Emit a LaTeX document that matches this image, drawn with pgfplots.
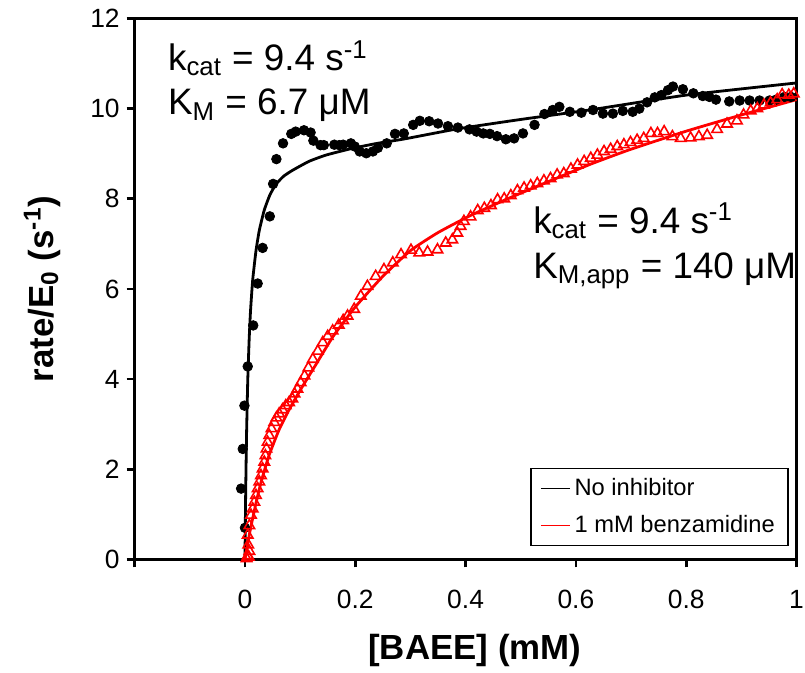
\documentclass[border=0pt]{standalone}
\usepackage{pgfplots}
\pgfplotsset{compat=1.18}
\usepackage{fontspec}
\setmainfont{Liberation Sans}
\begin{document}
\begin{tikzpicture}
\begin{axis}[
  scale only axis, width=331bp, height=270.5bp,
  xmin=-0.2, xmax=1, ymin=0, ymax=12,
  xtick={-0.2,0,0.2,0.4,0.6,0.8,1},
  xticklabels={,0,0.2,0.4,0.6,0.8,1},
  ytick={0,2,4,6,8,10,12},
  yticklabels={0,2,4,6,8,10,12},
  tick pos=left, tick align=outside,
  major tick length=4bp,
  tick style={black, line width=1.3bp},
  axis line style={line width=1.4bp},
  /pgf/number format/assume math mode=true,
  ticklabel style={font=\fontsize{13.25}{15}\selectfont},
  xticklabel style={yshift=-8bp},
  xlabel={\textbf{[BAEE] (mM)}},
  ylabel={\textbf{rate/E\textsubscript{0} (s\textsuperscript{-1})}},
  label style={font=\fontsize{17.5}{20}\selectfont},
  xlabel style={at={(axis description cs:0.514,-0.168)}, anchor=center},
  ylabel style={at={(axis description cs:-0.14,0.5)}, anchor=center},
  clip=false,
  legend cell align=left,
  legend style={at={(0.988,0.024)}, anchor=south east, draw=black, line width=0.7bp,
    font=\fontsize{11.9}{13.5}\selectfont, row sep=4.5bp, inner xsep=4.5bp, inner ysep=3bp},
  legend image code/.code={\draw[#1, line width=0.75bp] (0bp,0bp) -- (14.5bp,0bp);},
]
\coordinate (bl) at (rel axis cs:0,0);
\coordinate (tr) at (rel axis cs:1,1);
% black data points
\addplot[only marks, mark=*, mark size=2.4bp, black, forget plot] coordinates {
(0.000,0.70) (-0.007,1.57) (-0.004,2.45) (-0.001,3.41) (0.005,4.28) (0.015,5.19)
(0.023,6.12) (0.032,6.91) (0.045,7.61) (0.051,8.33) (0.057,8.88) (0.069,9.23)
(0.084,9.44) (0.092,9.49) (0.107,9.52) (0.119,9.47) (0.124,9.29) (0.137,9.19)
(0.143,9.19) (0.162,9.20) (0.171,9.19) (0.178,9.20) (0.192,9.23) (0.199,9.16)
(0.208,9.05) (0.220,9.01) (0.232,9.05) (0.241,9.13) (0.257,9.23) (0.272,9.44)
(0.288,9.45) (0.305,9.64) (0.317,9.73) (0.334,9.72) (0.350,9.67) (0.368,9.61)
(0.386,9.58) (0.407,9.54) (0.420,9.49) (0.432,9.45) (0.444,9.44) (0.457,9.39)
(0.473,9.32) (0.488,9.34) (0.504,9.45) (0.525,9.64) (0.543,9.88) (0.558,9.97)
(0.570,10.04) (0.589,9.93) (0.610,9.91) (0.631,9.97) (0.649,9.89) (0.667,9.89)
(0.685,9.95) (0.703,9.93) (0.715,10.00) (0.729,10.14) (0.743,10.25) (0.755,10.30)
(0.767,10.41) (0.776,10.49) (0.794,10.43) (0.813,10.34) (0.830,10.28) (0.842,10.26)
(0.854,10.20) (0.878,10.16) (0.897,10.18) (0.915,10.18) (0.933,10.18) (0.951,10.18)
(0.963,10.20) (0.978,10.26) (0.990,10.26)
};
% black fit
\addplot[black, line width=1.4bp, smooth, tension=0.3] coordinates {
(0,0) (0.001,1.2) (0.002,2.1) (0.003,2.85) (0.005,3.95) (0.0075,4.85) (0.01,5.5)
(0.014,6.2) (0.02,6.85) (0.026,7.3) (0.035,7.75) (0.045,8.08) (0.056,8.32)
(0.07,8.5) (0.086,8.63) (0.116,8.83) (0.147,8.97) (0.195,9.12) (0.24,9.23)
(0.29,9.33) (0.385,9.55) (0.5,9.76) (0.63,9.98) (0.8,10.3) (1.0,10.57)
};
\addlegendentry{No inhibitor}
% red data points
\addplot[only marks, mark=triangle, mark size=3bp, red, mark options={line width=0.8bp}, forget plot] coordinates {
(0.003,0.02) (0.005,0.08) (0.007,0.05) (0.008,0.18) (0.006,0.32) (0.005,0.54) (0.008,0.75)
(0.011,0.98) (0.014,1.12) (0.017,1.27) (0.020,1.42) (0.023,1.57) (0.026,1.72) (0.029,1.86)
(0.032,2.01) (0.035,2.16) (0.037,2.30) (0.039,2.45) (0.041,2.60) (0.044,2.75) (0.048,2.90)
(0.053,3.04) (0.057,3.14) (0.062,3.23) (0.068,3.32) (0.074,3.41) (0.080,3.48) (0.086,3.56)
(0.090,3.67) (0.095,3.78) (0.101,3.92) (0.108,4.07) (0.115,4.25) (0.123,4.44) (0.132,4.62)
(0.141,4.81) (0.150,4.95) (0.159,5.07) (0.170,5.20) (0.178,5.30) (0.186,5.40) (0.198,5.55)
(0.210,5.84) (0.222,6.06) (0.237,6.28) (0.252,6.43) (0.268,6.58) (0.283,6.76) (0.301,6.86)
(0.316,6.80) (0.331,6.82) (0.349,6.87) (0.364,7.02) (0.376,7.09) (0.385,7.24) (0.391,7.39)
(0.397,7.50) (0.409,7.60) (0.422,7.74) (0.434,7.79) (0.446,7.85) (0.458,7.98) (0.470,8.00)
(0.482,8.07) (0.494,8.18) (0.506,8.24) (0.518,8.29) (0.530,8.34) (0.542,8.40) (0.554,8.45)
(0.566,8.53) (0.578,8.56) (0.591,8.66) (0.603,8.75) (0.615,8.83) (0.627,8.90) (0.639,8.97)
(0.651,9.05) (0.663,9.10) (0.675,9.16) (0.687,9.20) (0.699,9.25) (0.711,9.30) (0.723,9.34)
(0.736,9.45) (0.748,9.45) (0.760,9.49) (0.775,9.38) (0.790,9.34) (0.808,9.35) (0.823,9.38)
(0.838,9.41) (0.856,9.54) (0.874,9.66) (0.892,9.73) (0.904,9.86) (0.917,9.95) (0.929,10.00)
(0.941,10.08) (0.953,10.13) (0.965,10.20) (0.974,10.31) (0.986,10.30) (0.995,10.33)
};
% red fit
\addplot[red, line width=1.4bp, smooth, tension=0.3] coordinates {
(0,0) (0.005,0.35) (0.01,0.68) (0.02,1.25) (0.03,1.75) (0.044,2.32) (0.062,2.88)
(0.08,3.32) (0.1,3.75) (0.13,4.35) (0.16,4.95) (0.2,5.6) (0.25,6.28) (0.3,6.85)
(0.35,7.25) (0.409,7.63) (0.48,8.02) (0.55,8.38) (0.627,8.77) (0.7,9.1) (0.8,9.5)
(0.9,9.86) (1.0,10.2)
};
\addlegendentry{1 mM benzamidine}
\node[anchor=base west, font=\fontsize{18.5}{22}\selectfont, inner sep=0pt] at (axis cs:-0.140,10.84) {k\textsubscript{cat} = 9.4 s\textsuperscript{-1}};
\node[anchor=base west, font=\fontsize{18.5}{22}\selectfont, inner sep=0pt] at (axis cs:-0.140,9.86) {K\textsubscript{M} = 6.7 μM};
\node[anchor=base west, font=\fontsize{18.5}{22}\selectfont, inner sep=0pt] at (axis cs:0.522,7.24) {k\textsubscript{cat} = 9.4 s\textsuperscript{-1}};
\node[anchor=base west, font=\fontsize{18.5}{22}\selectfont, inner sep=0pt] at (axis cs:0.522,6.24) {K\textsubscript{M,app} = 140 μM};
\end{axis}
\pgfresetboundingbox
\path[use as bounding box] ([xshift=-67.35bp,yshift=-56.75bp]bl) rectangle ([xshift=4.25bp,yshift=9.25bp]tr);
\end{tikzpicture}
\end{document}
